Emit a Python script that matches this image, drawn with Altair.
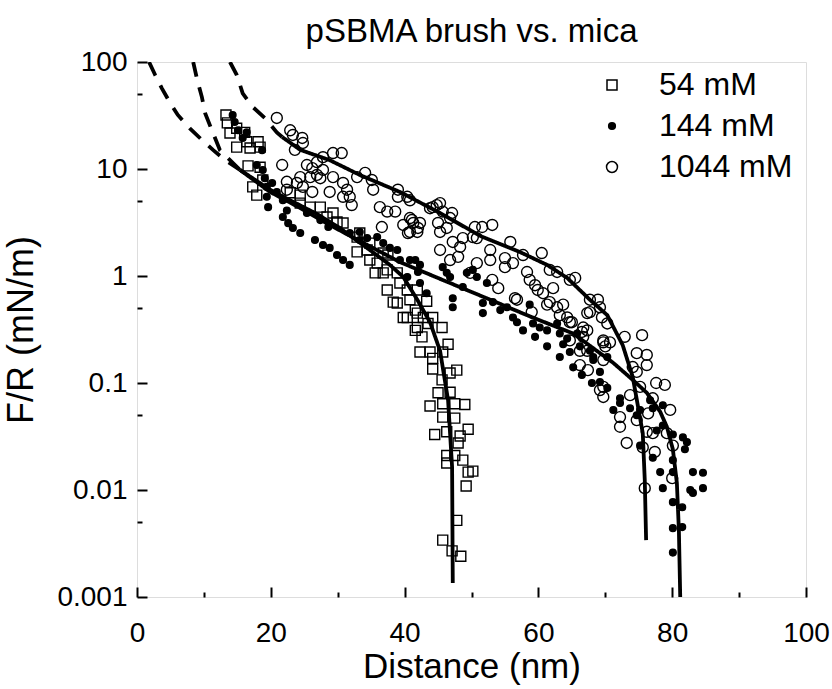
import altair as alt
import pandas as pd

chart_title = "pSBMA brush vs. mica"
x_title = "Distance (nm)"
y_title = "F/R (mN/m)"
series_names = ["54 mM", "144 mM", "1044 mM"]

x_major = [0, 20, 40, 60, 80, 100]
x_minor = [10, 30, 50, 70, 90]
y_major = [0.001, 0.01, 0.1, 1, 10, 100]
y_minor = [0.005, 0.05, 0.5, 5, 50]

# ---- measured points (distance nm, F/R mN/m) ----
pts_54 = [
    (13.3, 32), (13.5, 27), (13.9, 21.7), (14.9, 24), (16.1, 22), (14.9, 16), (16.4, 18),
    (16.9, 15.7), (18.1, 18), (18.4, 16), (16.6, 10.7), (18.4, 10.4), (17.3, 6.8), (17.9, 5.7),
    (18.8, 7.9), (22.9, 6.0), (24.4, 5.7), (24.4, 4.8), (25.9, 4.4), (27.4, 4.4), (28.4, 3.56),
    (29.3, 3.88), (29.9, 3.2), (30.8, 3.13), (32.9, 2.31), (32.9, 1.68), (34.4, 1.75), (34.8, 1.41),
    (35.9, 1.32), (36.8, 1.64), (35.6, 1.07), (36.8, 1.07), (37.4, 1.14), (38.9, 1.07), (37.4, 0.74),
    (39.3, 0.86), (40.4, 0.74), (38.3, 0.57), (38.9, 0.56), (40.8, 0.60), (39.8, 0.41), (41.9, 0.74),
    (41.6, 0.48), (40.4, 0.41), (41.9, 0.45), (42.8, 0.41), (43.3, 0.58), (44.2, 0.41), (41.9, 0.33),
    (45.6, 0.33), (41.6, 0.31), (42.6, 0.27), (43.5, 0.36), (42.3, 0.195), (43.8, 0.195), (44.2, 0.17),
    (45.7, 0.195), (46.5, 0.23), (44.2, 0.135), (45.6, 0.107), (46.8, 0.124), (47.8, 0.132),
    (45.0, 0.081), (46.8, 0.082), (43.8, 0.061), (45.7, 0.064), (47.5, 0.064), (49.0, 0.063),
    (45.7, 0.048), (47.5, 0.047), (49.5, 0.037), (44.5, 0.033), (46.3, 0.035), (48.3, 0.032),
    (48.0, 0.0275), (46.3, 0.021), (47.5, 0.021), (48.7, 0.019), (46.3, 0.0179), (49.5, 0.0147),
    (50.2, 0.015), (49.2, 0.0109), (47.8, 0.0052), (45.7, 0.0034), (47.1, 0.0027), (48.4, 0.0024),
    (33.3, 2.52), (34.8, 2.03), (37.5, 1.57),
]

pts_144 = [
    (14.3, 32), (14.6, 27.5), (15.1, 23), (16.4, 22), (15.8, 19.5), (18.7, 15), (17.9, 10.9),
    (18.8, 9.8), (19.1, 8.2), (19.4, 6.8), (20.2, 7.4), (20.9, 6.1), (19.4, 5.5), (19.6, 4.4),
    (21.8, 5.1), (22.4, 4.1), (21.8, 3.56), (22.6, 3.12), (23.3, 2.81), (24.4, 2.52), (25.4, 3.88),
    (26.6, 2.17), (27.4, 3.33), (27.8, 1.95), (28.6, 2.87), (28.8, 1.83), (29.9, 1.57), (30.8, 1.41),
    (31.8, 1.27), (31.8, 2.52), (33.3, 2.58), (33.3, 2.17), (34.4, 2.26), (35.9, 2.31), (36.8, 2.03),
    (37.8, 1.83), (38.9, 1.75), (39.3, 1.41), (40.8, 1.41), (41.6, 1.41), (42.3, 1.27), (42.0, 1.09),
    (40.4, 0.98), (42.3, 0.86), (43.3, 0.69), (45.7, 1.21), (46.3, 1.07), (46.8, 0.98), (47.2, 0.62),
    (47.2, 0.51), (48.7, 0.79), (49.3, 1.07), (50.2, 1.14), (50.8, 0.98), (52.3, 0.86), (51.7, 0.56),
    (51.7, 0.45), (53.2, 0.57), (54.3, 0.48), (55.3, 0.51), (56.2, 0.41), (56.8, 0.37), (57.7, 0.31),
    (58.7, 0.54), (59.2, 0.36), (60.2, 0.33), (61.3, 0.31), (59.5, 0.27), (61.3, 0.22), (62.8, 0.36),
    (63.2, 0.29), (64.3, 0.26), (63.7, 0.23), (63.2, 0.175), (64.7, 0.195), (65.8, 0.29), (66.2, 0.22),
    (67.7, 0.20), (68.2, 0.175), (70.3, 0.175), (65.2, 0.14), (66.5, 0.119), (68.2, 0.164),
    (69.2, 0.127), (68.0, 0.10), (69.2, 0.102), (70.3, 0.09), (72.2, 0.072), (72.2, 0.065),
    (71.2, 0.056), (73.7, 0.058), (75.2, 0.056), (74.7, 0.050), (76.7, 0.069), (77.1, 0.058),
    (78.6, 0.062), (78.6, 0.040), (80.1, 0.033), (81.6, 0.031), (82.2, 0.028), (81.9, 0.024),
    (77.7, 0.036), (75.2, 0.026), (77.1, 0.020), (78.2, 0.0147), (80.1, 0.019), (80.1, 0.0147),
    (83.1, 0.0147), (84.6, 0.0145), (78.6, 0.0104), (82.7, 0.0100), (83.1, 0.0094), (84.6, 0.0104),
    (80.1, 0.0077), (81.5, 0.0069), (80.1, 0.0044), (81.5, 0.0045), (80.1, 0.0026),
]

pts_1044 = [
    (20.9, 30), (22.9, 23), (23.3, 20.8), (24.7, 19.5), (24.8, 17.5), (23.6, 15.1), (21.7, 10.9),
    (25.4, 10.9), (26.2, 10.2), (26.9, 11.6), (27.8, 12.9), (29.3, 14.1), (30.6, 14.1), (27.8, 9.8),
    (26.9, 8.8), (24.4, 8.4), (25.9, 8.4), (27.4, 8.2), (22.4, 7.6), (23.9, 7.4), (24.8, 6.8),
    (26.2, 6.1), (22.4, 6.4), (29.3, 8.4), (30.8, 7.4), (32.9, 8.4), (34.1, 9.2), (35.1, 7.9),
    (31.4, 6.4), (31.8, 5.5), (28.8, 6.1), (30.8, 5.5), (32.1, 4.6), (35.3, 6.4), (36.3, 4.4),
    (37.4, 4.0), (38.6, 4.0), (39.0, 6.4), (39.0, 5.5), (40.8, 5.1), (40.8, 3.48), (39.8, 3.0),
    (41.3, 3.13), (42.3, 3.13), (40.8, 2.58), (41.9, 2.58), (43.8, 4.3), (44.8, 4.6), (45.7, 4.0),
    (46.8, 3.48), (45.0, 3.13), (45.3, 2.58), (45.3, 1.75), (47.2, 2.08), (48.7, 2.26), (46.8, 1.41),
    (48.0, 1.51), (50.5, 2.87), (50.8, 2.26), (50.8, 1.32), (49.8, 1.07), (36.6, 2.87), (41.1, 3.34),
    (42.0, 2.81), (40.5, 2.52), (47.1, 3.88), (46.3, 2.81), (48.3, 1.87), (51.6, 2.87), (53.1, 3.0),
    (50.2, 2.31), (52.8, 1.75), (52.8, 1.41), (55.8, 2.08), (57.7, 1.57), (60.5, 1.64), (55.0, 1.47),
    (55.0, 1.21), (56.2, 1.32), (58.3, 1.09), (58.7, 0.92), (59.5, 0.82), (59.9, 0.74), (61.7, 1.14),
    (62.8, 1.09), (62.2, 0.77), (60.7, 0.69), (61.7, 0.57), (62.8, 0.51), (63.7, 0.54), (63.2, 0.43),
    (64.3, 0.41), (65.0, 0.37), (64.7, 0.92), (65.5, 0.96), (67.7, 0.60), (68.9, 0.60), (67.7, 0.46),
    (69.5, 0.41), (70.3, 0.36), (66.7, 0.33), (67.3, 0.31), (66.7, 0.27), (69.7, 0.25), (70.0, 0.22),
    (72.9, 0.27), (75.5, 0.28), (74.7, 0.19), (76.2, 0.183), (53.1, 0.92), (54.0, 0.77), (56.5, 0.62),
    (59.0, 0.46), (64.7, 0.25), (67.3, 0.20), (56.8, 0.60), (61.3, 0.54), (64.7, 0.37), (67.3, 0.45),
    (69.2, 0.51), (66.5, 0.30), (66.2, 0.20), (66.2, 0.147), (67.4, 0.132), (69.7, 0.24), (70.7, 0.24),
    (69.7, 0.164), (74.1, 0.141), (74.7, 0.127), (76.2, 0.147), (69.2, 0.086), (69.7, 0.092),
    (69.7, 0.074), (73.7, 0.077), (75.2, 0.092), (77.6, 0.10), (78.9, 0.096), (77.1, 0.072),
    (76.4, 0.052), (79.7, 0.056), (72.2, 0.048), (72.2, 0.039), (73.2, 0.0275), (74.7, 0.045),
    (76.2, 0.035), (77.1, 0.034), (75.6, 0.025), (77.4, 0.0227), (79.2, 0.034), (80.1, 0.026),
    (80.0, 0.0129), (75.9, 0.0104), (40.4, 5.5), (44.2, 4.4), (45.3, 4.8),
]

# ---- fitted curves (solid) and their extrapolations (dashed) ----
fit_54 = [
    (15.4, 9.8), (19.9, 6.4), (22.9, 5.1), (26.9, 3.8), (30.3, 2.81), (34.8, 1.75), (37.8, 1.27),
    (39.8, 0.98), (41.9, 0.60), (43.8, 0.37), (45.3, 0.20), (46.5, 0.069), (47.1, 0.0164), (47.2, 0.00135),
]
ext_54 = [(8.4, 100), (9.0, 68), (9.7, 47), (10.2, 33), (11.2, 23), (12.4, 15), (15.4, 9.8)]

fit_144 = [
    (15.4, 9.8), (19.9, 6.1), (24.4, 4.32), (28.8, 3.0), (33.3, 2.12), (39.3, 1.35), (45.3, 0.94),
    (52.8, 0.60), (58.7, 0.42), (65.2, 0.29), (71.2, 0.154), (74.1, 0.107), (76.2, 0.081),
    (78.2, 0.054), (79.2, 0.039), (80.1, 0.024), (80.7, 0.0116), (81.0, 0.0042), (81.2, 0.001),
]
ext_144 = [
    (1.8, 100), (2.7, 76), (3.7, 57), (4.9, 42), (6.1, 32), (7.9, 24), (9.7, 18.7), (11.4, 15),
    (13.2, 12.1), (15.4, 9.8),
]

fit_1044 = [
    (21.7, 19.9), (24.4, 15.1), (28.8, 12.1), (33.3, 8.8), (39.3, 6.1), (45.3, 3.88), (51.3, 2.37),
    (57.2, 1.68), (61.3, 1.27), (64.3, 0.96), (67.7, 0.60), (70.3, 0.43), (72.6, 0.226),
    (74.1, 0.114), (75.6, 0.034), (75.9, 0.0124), (76.1, 0.0034),
]
ext_1044 = [(13.9, 100), (14.9, 76), (15.8, 51), (17.3, 38), (19.1, 30), (20.9, 22), (21.7, 19.9)]

# ---- tables ----
rows = []
for name, pts in zip(series_names, [pts_54, pts_144, pts_1044]):
    for x, y in pts:
        rows.append({"series": name, "x": x, "y": y})
points_df = pd.DataFrame(rows)

line_rows = []
for name, part, pts in [
    ("54 mM", "fit", fit_54), ("54 mM", "extrapolation", ext_54),
    ("144 mM", "fit", fit_144), ("144 mM", "extrapolation", ext_144),
    ("1044 mM", "fit", fit_1044), ("1044 mM", "extrapolation", ext_1044),
]:
    for i, (x, y) in enumerate(pts):
        line_rows.append({"series": name, "part": part, "seg": name + " " + part, "x": x, "y": y, "i": i})
lines_df = pd.DataFrame(line_rows)

FONT = "Liberation Sans"
W, H = 669, 535

xscale = alt.Scale(domain=[0, 100], nice=False, zero=False)
yscale = alt.Scale(type="log", domain=[0.001, 100], nice=False)

legend = alt.Legend(
    title=None, orient="none", legendX=459, legendY=7,
    labelFont=FONT, labelFontSize=32, labelColor="black", labelOffset=31,
    rowPadding=9, padding=0, symbolStrokeColor="black", symbolStrokeWidth=1.5,
    labelExpr="datum.label == '54 mM' ? '\u00a054 mM' : datum.label",
)

x_main = alt.Axis(orient="bottom", values=x_major, ticks=False, tickSize=0, domain=False, grid=False,
                  labelFont=FONT, labelFontSize=28, labelColor="black", labelPadding=22,
                  labelFlush=False, labelOverlap=False,
                  title=x_title, titleFont=FONT, titleFontSize=35, titleFontWeight="normal",
                  titleColor="black", titleX=W / 2, titleY=80, titleBaseline="alphabetic")
y_main = alt.Axis(orient="left", values=y_major, format="~g", ticks=False, tickSize=0, domain=False,
                  grid=False, labelFont=FONT, labelFontSize=28, labelColor="black", labelPadding=10,
                  labelFlush=False, labelOverlap=False,
                  title=y_title, titleFont=FONT, titleFontSize=36, titleFontWeight="normal",
                  titleColor="black", titleX=-105, titleY=H / 2, titleBaseline="alphabetic")

def tick_axis(orient, vals, size):
    return alt.Axis(orient=orient, values=vals, labels=False, domain=False, grid=False, ticks=True,
                    tickSize=size, tickWidth=2, tickColor="black", offset=-size, title="")

points = alt.Chart(points_df).mark_point(filled=True, stroke="black", strokeWidth=1.4, opacity=1).encode(
    x=alt.X("x:Q", scale=xscale, axis=x_main),
    y=alt.Y("y:Q", scale=yscale, axis=y_main),
    shape=alt.Shape("series:N", scale=alt.Scale(domain=series_names, range=["square", "circle", "circle"]), legend=legend),
    fill=alt.Fill("series:N", scale=alt.Scale(domain=series_names, range=["transparent", "black", "transparent"]), legend=legend),
    stroke=alt.Stroke("series:N", scale=alt.Scale(domain=series_names, range=["black", "black", "black"]), legend=legend),
    size=alt.Size("series:N", scale=alt.Scale(type="ordinal", domain=series_names, range=[100, 45, 120]), legend=legend),
)

lines = alt.Chart(lines_df).mark_line(color="black", strokeWidth=3.8, clip=True).encode(
    x=alt.X("x:Q", scale=xscale, axis=tick_axis("bottom", x_major, 10)),
    y=alt.Y("y:Q", scale=yscale, axis=tick_axis("left", y_major, 10)),
    detail="seg:N",
    order="i:Q",
    strokeDash=alt.StrokeDash("part:N", scale=alt.Scale(domain=["fit", "extrapolation"], range=[[1, 0], [15, 11]]), legend=None),
)

minor = alt.Chart(points_df).mark_point(opacity=0).encode(
    x=alt.X("x:Q", scale=xscale, axis=tick_axis("bottom", x_minor, 5)),
    y=alt.Y("y:Q", scale=yscale, axis=tick_axis("left", y_minor, 5)),
)

chart = alt.layer(points, lines, minor).resolve_axis(x="independent", y="independent").properties(
    width=W, height=H,
    autosize=alt.AutoSizeParams(type="none"),
    padding={"left": 137, "top": 62, "right": 26, "bottom": 92},
    title=alt.TitleParams(chart_title, font=FONT, fontSize=33, fontWeight="normal", color="black",
                          anchor="middle", frame="group", baseline="alphabetic", offset=20, dy=47),
).configure_view(stroke="black", strokeWidth=2).configure(background="white")

chart.save("out.html", embed_options={"renderer": "svg", "actions": False})
